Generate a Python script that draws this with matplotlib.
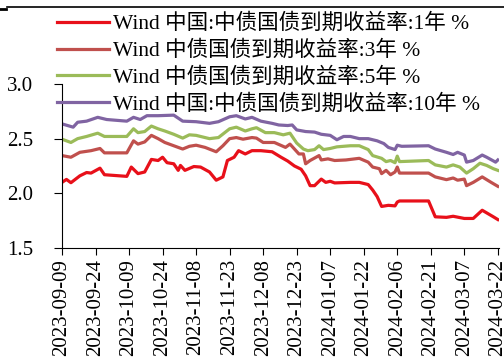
import pandas as pd
from matplotlib import pyplot as plt
from matplotlib import dates as mdates
from matplotlib.lines import Line2D

START = pd.Timestamp("2023-09-09")

# days counted from START, yields in %
y1_days = [0, 2, 4, 8, 11, 13, 17, 19, 29, 31, 34, 37, 40, 43, 45, 47, 50, 52,
           53, 55, 59, 62, 66, 69, 72, 74, 77, 79, 82, 85, 89, 94, 98, 101, 104,
           107, 109, 111, 113, 116, 118, 120, 122, 129, 133, 137, 139, 141, 143,
           146, 149, 150, 151, 164, 167, 172, 175, 180, 184, 188, 193, 195]
y1_vals = [2.10, 2.127, 2.097, 2.16, 2.19, 2.185, 2.23, 2.17, 2.155, 2.24, 2.18,
           2.195, 2.31, 2.30, 2.33, 2.28, 2.27, 2.21, 2.255, 2.21, 2.245, 2.24,
           2.195, 2.12, 2.15, 2.30, 2.33, 2.39, 2.36, 2.39, 2.39, 2.38, 2.33,
           2.295, 2.25, 2.22, 2.16, 2.07, 2.07, 2.13, 2.10, 2.11, 2.095, 2.10,
           2.10, 2.08, 2.03, 1.97, 1.88, 1.89, 1.885, 1.92, 1.93, 1.93, 1.785,
           1.78, 1.79, 1.77, 1.77, 1.845, 1.785, 1.76]

y3_days = [0, 4, 8, 13, 17, 19, 29, 32, 34, 37, 40, 43, 46, 50, 54, 57, 60, 64,
           69, 72, 75, 78, 81, 85, 87, 90, 95, 100, 102, 106, 108, 109, 111, 115,
           116, 119, 122, 127, 133, 137, 139, 142, 143, 145, 147, 149, 150, 151,
           164, 167, 172, 175, 177, 180, 181, 184, 188, 192, 195]
y3_vals = [2.345, 2.33, 2.375, 2.39, 2.41, 2.37, 2.37, 2.48, 2.45, 2.47, 2.53,
           2.50, 2.465, 2.435, 2.405, 2.43, 2.44, 2.42, 2.38, 2.435, 2.50, 2.51,
           2.495, 2.51, 2.505, 2.465, 2.465, 2.42, 2.45, 2.36, 2.36, 2.27, 2.30,
           2.345, 2.305, 2.315, 2.30, 2.305, 2.32, 2.285, 2.24, 2.225, 2.18,
           2.21, 2.17, 2.195, 2.24, 2.185, 2.185, 2.15, 2.125, 2.14, 2.12, 2.13,
           2.07, 2.10, 2.15, 2.10, 2.064]

y5_days = [0, 4, 7, 11, 16, 19, 29, 32, 34, 37, 40, 43, 46, 50, 54, 57, 60, 66,
           70, 75, 78, 82, 85, 87, 91, 95, 99, 102, 105, 108, 110, 113, 115, 117,
           120, 123, 129, 133, 137, 139, 143, 145, 147, 149, 150, 151, 164, 167,
           172, 175, 178, 181, 184, 187, 190, 193, 195]
y5_vals = [2.495, 2.465, 2.50, 2.52, 2.55, 2.52, 2.52, 2.59, 2.555, 2.565, 2.615,
           2.59, 2.57, 2.54, 2.505, 2.535, 2.53, 2.50, 2.51, 2.59, 2.605, 2.57,
           2.59, 2.60, 2.555, 2.555, 2.535, 2.55, 2.46, 2.405, 2.39, 2.40, 2.435,
           2.40, 2.41, 2.425, 2.435, 2.435, 2.40, 2.345, 2.32, 2.29, 2.30, 2.28,
           2.34, 2.29, 2.30, 2.26, 2.24, 2.26, 2.24, 2.185, 2.225, 2.275, 2.255,
           2.225, 2.21]

y10_days = [0, 5, 7, 11, 16, 20, 29, 32, 35, 38, 43, 50, 54, 60, 66, 70, 75, 78,
            82, 85, 89, 94, 97, 101, 103, 105, 109, 113, 116, 120, 123, 126, 129,
            133, 137, 141, 144, 146, 149, 150, 152, 164, 167, 172, 175, 177, 180,
            181, 184, 188, 190, 194, 195]
y10_vals = [2.635, 2.605, 2.65, 2.66, 2.695, 2.675, 2.66, 2.695, 2.675, 2.71,
            2.71, 2.715, 2.66, 2.655, 2.64, 2.655, 2.70, 2.71, 2.68, 2.695, 2.66,
            2.64, 2.625, 2.62, 2.625, 2.58, 2.565, 2.56, 2.54, 2.53, 2.49, 2.52,
            2.52, 2.50, 2.50, 2.48, 2.455, 2.42, 2.40, 2.44, 2.43, 2.435, 2.405,
            2.375, 2.355, 2.375, 2.35, 2.285, 2.30, 2.35, 2.33, 2.285, 2.305]

labels = ["Wind 中国:中债国债到期收益率:1年 %",
          "Wind 中债国债到期收益率:3年 %",
          "Wind 中债国债到期收益率:5年 %",
          "Wind 中国:中债国债到期收益率:10年 %"]
colors = ["#E8101A", "#C0504D", "#9BBB59", "#8064A2"]

FONT = ["Liberation Serif", "Noto Sans CJK SC"]


def to_dates(days):
    return START + pd.to_timedelta(days, unit="D")


def main():
    plt.rcParams["font.family"] = FONT
    fig = plt.figure(figsize=(5.04, 3.62), dpi=100)
    ax = fig.add_axes([0.123, 0.315, 0.867, 0.453])

    series = [(y1_days, y1_vals), (y3_days, y3_vals),
              (y5_days, y5_vals), (y10_days, y10_vals)]
    handles = []
    for (days, vals), color, label in zip(series, colors, labels):
        line, = ax.plot(to_dates(days), vals, color=color, lw=2.3, label=label)
        handles.append(line)

    ax.set_ylim(1.5, 3.0)
    ax.set_yticks([1.5, 2.0, 2.5, 3.0])
    ax.yaxis.set_major_formatter(plt.FormatStrFormatter("%.1f"))
    ax.set_xlim(START, START + pd.Timedelta(days=195.5))
    ax.set_xticks(to_dates(list(range(0, 196, 15))))
    ax.xaxis.set_major_formatter(mdates.DateFormatter("%Y-%m-%d"))
    ax.tick_params(axis="x", labelrotation=90, direction="out", length=5,
                   pad=3, labelsize=15)
    ax.tick_params(axis="y", direction="out", length=6, pad=15, labelsize=15)
    for side in ["top", "right"]:
        ax.spines[side].set_visible(False)

    fig.legend(handles=handles, loc="upper left",
               bbox_to_anchor=(0.113, 0.962), frameon=False, fontsize=15.5,
               handlelength=2.4, handletextpad=0.22, labelspacing=0.3,
               borderpad=0, borderaxespad=0)

    # rule along the top of the page
    fig.add_artist(Line2D([0.014, 1.0], [0.981, 0.981], color="black", lw=1.2))
    fig.add_artist(Line2D([0.0, 0.012], [0.975, 0.975], color="black", lw=2))

    fig.savefig("out.png", dpi=100)


if __name__ == "__main__":
    main()
